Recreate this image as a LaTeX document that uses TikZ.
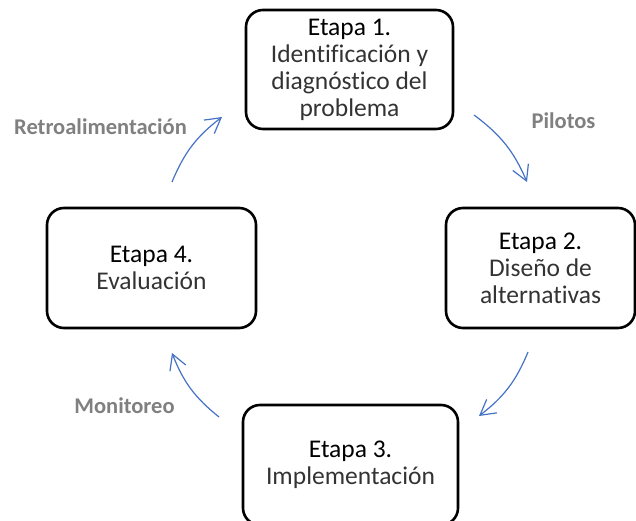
\documentclass[tikz,border=0pt]{standalone}
\usepackage{fontspec}
\setmainfont[Ligatures=NoCommon]{Carlito}
\usetikzlibrary{arrows.meta}
\definecolor{flowblue}{HTML}{4472C4}
\definecolor{lblgray}{HTML}{808080}
\begin{document}
\begin{tikzpicture}[x=1pt,y=1pt,>={Straight Barb[length=15pt,width=17pt]},
  stage/.style={draw,line width=2.6pt,rounded corners=17pt,align=center,
    text=black!80,font=\fontsize{25.5}{27}\selectfont,inner sep=0pt},
  lbl/.style={anchor=base,text=lblgray,font=\fontsize{22.5}{25}\selectfont\bfseries},
  flow/.style={->,draw=flowblue,line width=1.2pt,bend left=15}]
\useasboundingbox (0,0) rectangle (636,521);
\clip (0,0) rectangle (636,521);
% etapas
\node[stage,minimum width=207,minimum height=119] (e1) at (349.5,451.5)
  {\textcolor{black}{Etapa 1.}\\Identificación y\\diagnóstico del\\problema};
\node[stage,minimum width=189,minimum height=120] (e2) at (540.5,253)
  {\textcolor{black}{Etapa 2.}\\Diseño de\\alternativas};
\node[stage,minimum width=215,minimum height=120] (e3) at (350.5,56)
  {\textcolor{black}{Etapa 3.}\\Implementación};
\node[stage,minimum width=209,minimum height=120] (e4) at (151.5,253)
  {\textcolor{black}{Etapa 4.}\\Evaluación};
% flechas
\coordinate (a1) at (474,406);
\coordinate (b1) at (527,339);
\coordinate (a2) at (528,169);
\coordinate (b2) at (479,105);
\coordinate (a3) at (219,104);
\coordinate (b3) at (172,168);
\coordinate (a4) at (172,339);
\coordinate (b4) at (222,404);
\draw[flow] (a1) to (b1);
\draw[flow] (a2) to (b2);
\draw[flow] (a3) to (b3);
\draw[flow] (a4) to (b4);
% etiquetas
\node[lbl] (pil) at (563.5,392) {Pilotos};
\node[lbl] (mon) at (124.5,107) {Monitoreo};
\node[lbl] (ret) at (100.5,386) {Retroalimentación};
\end{tikzpicture}
\end{document}
